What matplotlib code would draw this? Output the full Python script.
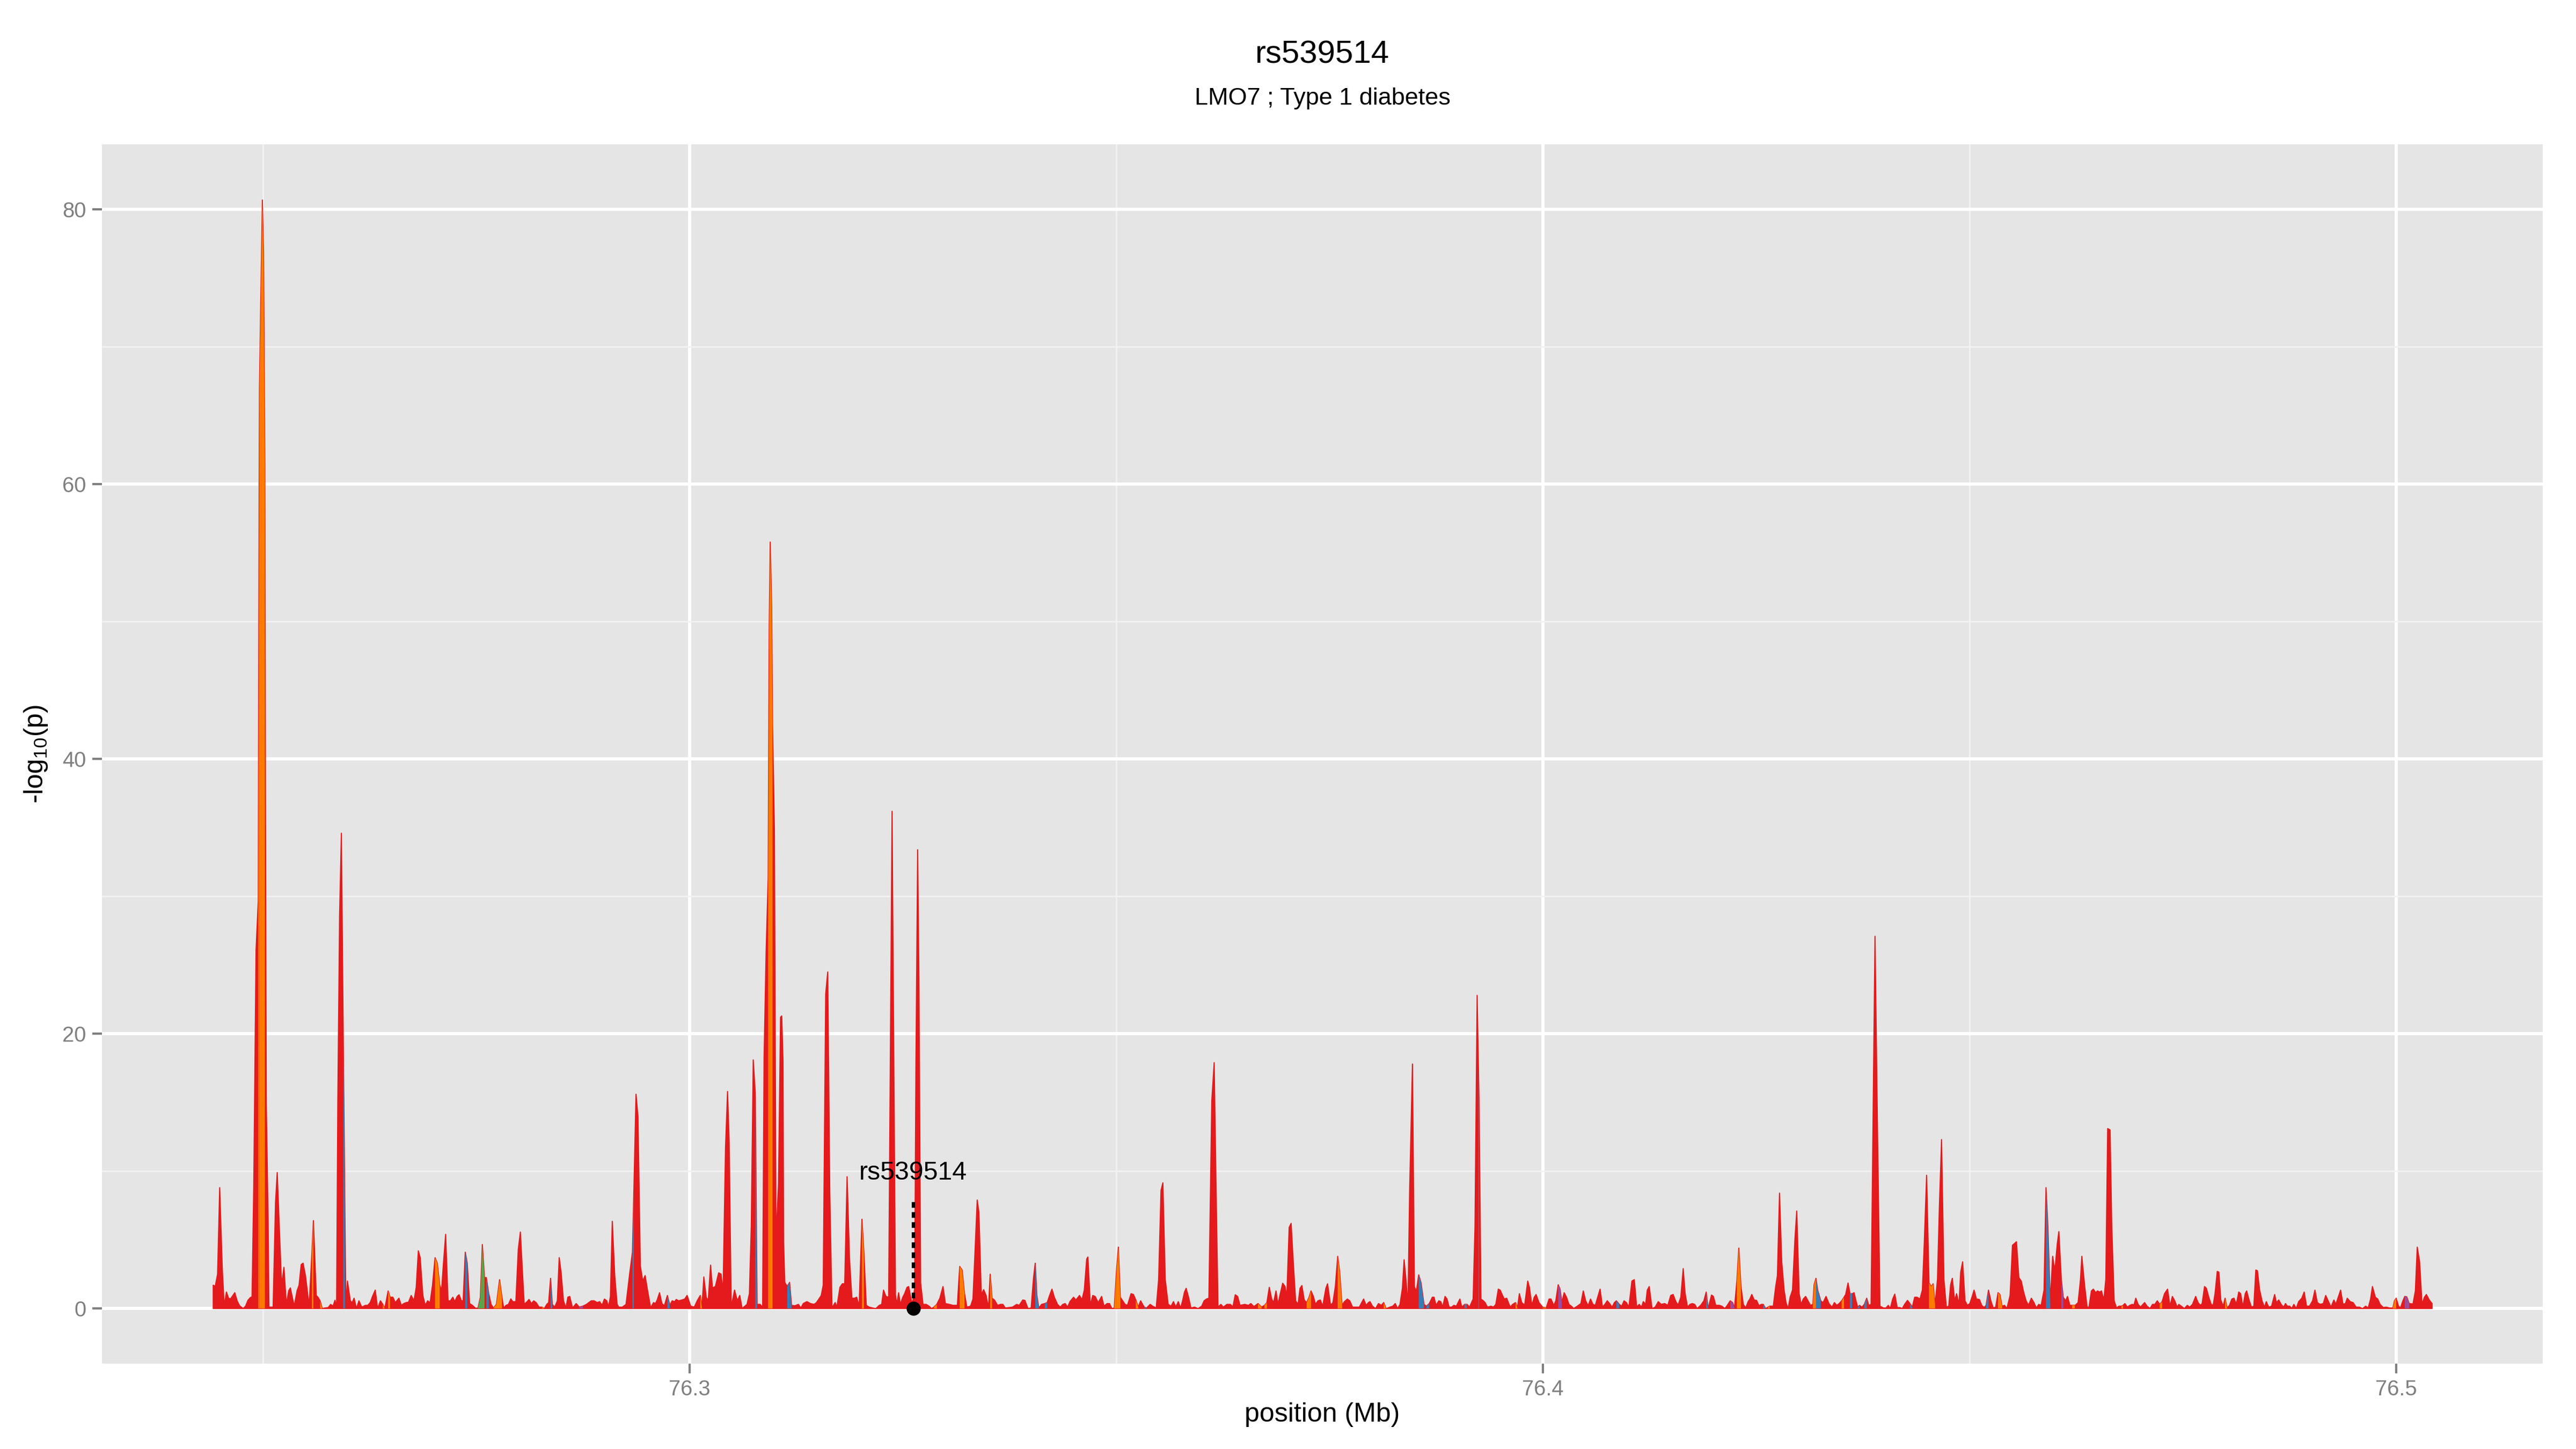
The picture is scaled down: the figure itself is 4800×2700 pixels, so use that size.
import numpy as np
import matplotlib
matplotlib.use("Agg")
import matplotlib.pyplot as plt

plt.rcParams['font.family'] = ['Liberation Sans', 'DejaVu Sans']
plt.rcParams['mathtext.default'] = 'regular'

# ---------------- DATA (position in kb, -log10 p) ----------------
pos_a = [76244.14, 76244.37, 76244.65, 76244.90, 76245.21, 76245.43, 76245.69, 76245.94, 76246.17, 76246.39,
         76246.67, 76246.95, 76247.23, 76247.65, 76247.93, 76248.21, 76248.50, 76248.69, 76248.89, 76249.16,
         76249.42, 76249.48, 76249.56, 76249.73, 76249.90, 76250.04, 76250.19, 76250.25, 76250.36, 76250.57,
         76250.67, 76251.16, 76251.44, 76251.64, 76252.15, 76252.43, 76252.71, 76252.99, 76253.18, 76253.63,
         76253.97, 76254.20, 76254.45, 76254.67, 76254.95, 76255.38, 76255.71, 76255.88, 76256.22, 76256.44,
         76256.67, 76256.92]
nlp_a = [1.7, 1.6, 2.5, 8.8, 2.8, 0.2, 1.2, 0.75, 0.7, 0.9,
         1.15, 0.55, 0.2, 0.0, 0.17, 0.6, 0.8, 0.85, 8.9, 26.1,
         29.7, 49.4, 67.0, 74.0, 80.7, 76.8, 61.5, 39.6, 14.9, 6.7,
         0.1, 0.1, 7.7, 9.9, 1.7, 3.0, 0.3, 1.3, 1.5, 0.17,
         1.3, 1.7, 3.2, 3.3, 2.4, 0.17, 4.1, 6.4, 0.95, 0.8,
         0.55, 0.0]

pos_b = [76257.20, 76257.62, 76257.90, 76258.18, 76258.41, 76258.60, 76258.74, 76258.95, 76259.16, 76259.37,
         76259.58, 76259.69, 76259.87, 76260.21, 76260.43, 76260.65, 76260.93, 76261.22, 76261.55, 76261.97,
         76262.25, 76262.54, 76262.82, 76263.13, 76263.41, 76263.74, 76264.02, 76264.25, 76264.64, 76264.87,
         76265.20, 76265.48, 76265.90, 76266.19, 76266.47, 76266.75, 76267.03, 76267.34, 76267.67, 76267.93,
         76268.18, 76268.40, 76268.71, 76268.99, 76269.27, 76269.56, 76269.84, 76270.14, 76270.40, 76270.68,
         76270.90, 76271.10, 76271.38, 76271.66, 76271.94, 76272.22, 76272.45, 76272.73, 76272.95, 76273.23,
         76273.43, 76273.68, 76273.91, 76274.19, 76274.52, 76274.86, 76275.17, 76275.45, 76275.68, 76275.93,
         76276.15, 76276.43, 76276.71, 76276.99, 76277.33, 76277.70, 76277.98, 76278.18, 76278.46, 76278.74,
         76279.02, 76279.24, 76279.61, 76279.89, 76280.14, 76280.37, 76280.59, 76280.93, 76281.15, 76281.43,
         76281.71, 76281.99, 76282.33, 76282.67, 76282.95, 76283.23, 76283.45, 76283.68, 76283.88, 76284.16,
         76284.47, 76284.69, 76284.91, 76285.19, 76285.48, 76285.70, 76285.92, 76286.26, 76286.68, 76287.04]
nlp_b = [0.04, 0.07, 0.3, 0.17, 0.6, 0.15, 14.9, 28.6, 34.6, 20.4,
         6.7, 0.1, 2.0, 0.56, 0.43, 0.75, 0.0, 0.56, 0.1, 0.23,
         0.23, 0.43, 0.9, 1.34, 0.0, 0.56, 0.3, 0.0, 1.28, 0.82,
         0.82, 0.43, 0.75, 0.23, 0.36, 0.43, 0.46, 0.95, 0.56, 1.54,
         4.2, 3.7, 0.95, 0.23, 0.56, 0.43, 1.7, 3.7, 3.3, 1.73,
         1.28, 3.1, 5.4, 0.56, 0.56, 0.82, 0.5, 0.88, 1.0, 0.56,
         0.56, 4.1, 3.3, 0.36, 0.23, 0.03, 0.03, 0.82, 4.66, 2.25,
         2.25, 1.08, 0.3, 0.03, 0.3, 2.1, 0.82, 0.03, 0.23, 0.3,
         0.7, 0.5, 0.5, 4.3, 5.57, 2.8, 0.3, 0.5, 0.66, 0.36,
         0.56, 0.43, 0.1, 0.1, 0.0, 0.3, 0.43, 2.2, 0.3, 0.1,
         0.56, 3.7, 2.65, 0.56, 0.04, 0.82, 0.88, 0.04, 0.36, 0.1]

pos_c = [76287.46, 76287.88, 76288.44, 76288.78, 76289.15, 76289.43, 76289.71, 76289.99, 76290.27, 76290.47,
         76290.69, 76290.91, 76291.20, 76291.48, 76291.67, 76292.09, 76292.52, 76292.94, 76293.27, 76293.44,
         76293.69, 76293.92, 76294.20, 76294.48, 76294.76, 76295.04, 76295.41, 76295.74, 76295.97, 76296.17,
         76296.45, 76296.73, 76297.01, 76297.37, 76297.65, 76297.93, 76298.22, 76298.41, 76298.69, 76299.06,
         76299.40, 76299.68, 76300.10, 76300.52, 76300.86, 76301.22, 76301.42, 76301.64, 76301.92, 76302.15,
         76302.43, 76302.65, 76302.99, 76303.38, 76303.66, 76303.89, 76304.18, 76304.42, 76304.61, 76304.85,
         76305.24, 76305.57, 76305.85, 76306.13, 76306.70, 76306.98, 76307.20, 76307.43, 76307.67, 76307.88,
         76308.24, 76308.53, 76308.70, 76308.94, 76309.18, 76309.30, 76309.42, 76309.59, 76309.69, 76309.91,
         76310.10, 76310.39, 76310.63, 76310.77, 76310.92, 76310.99, 76311.13, 76311.41, 76311.69, 76311.92]
nlp_c = [0.17, 0.3, 0.56, 0.56, 0.43, 0.5, 0.23, 0.69, 0.56, 0.1,
         0.88, 6.35, 2.4, 0.3, 0.1, 0.1, 0.3, 2.5, 4.1, 8.6,
         15.6, 14.0, 3.1, 2.0, 2.4, 1.34, 0.04, 0.43, 0.36, 0.62,
         1.15, 0.36, 0.2, 0.95, 0.23, 0.56, 0.5, 0.66, 0.56, 0.62,
         0.69, 0.95, 0.17, 0.1, 0.56, 0.95, 0.1, 2.3, 0.82, 0.56,
         3.16, 1.5, 1.6, 2.6, 2.5, 1.15, 11.7, 15.8, 12.1, 0.1,
         1.34, 0.56, 0.95, 0.0, 0.3, 1.08, 6.0, 18.1, 15.7, 0.3,
         0.3, 0.1, 18.3, 26.0, 31.4, 49.6, 55.8, 51.1, 42.6, 34.9,
         5.1, 9.0, 21.2, 21.3, 18.0, 4.8, 1.9, 1.6, 1.9, 0.23]

pos_d = [76312.31, 76312.73, 76313.01, 76313.29, 76313.72, 76314.14, 76314.56, 76314.84, 76315.12, 76315.40,
         76315.63, 76315.92, 76316.16, 76316.40, 76316.66, 76317.03, 76317.23, 76317.59, 76317.87, 76318.15,
         76318.43, 76318.71, 76318.99, 76319.28, 76319.56, 76319.84, 76320.17, 76320.40, 76320.68, 76321.02,
         76321.44, 76321.80, 76322.20, 76322.48, 76322.70, 76322.98, 76323.30, 76323.70, 76324.10, 76324.25,
         76324.47, 76324.67, 76324.95, 76325.17, 76325.45, 76325.65, 76325.87, 76326.07, 76326.35, 76326.50,
         76326.70, 76326.85, 76327.05, 76327.33, 76327.70, 76328.04, 76328.32, 76328.60, 76328.94, 76329.30,
         76329.67, 76329.95, 76330.42, 76330.84]
nlp_d = [0.2, 0.3, 0.03, 0.36, 0.5, 0.36, 0.3, 0.43, 0.69, 0.95,
         1.7, 22.9, 24.5, 8.5, 0.04, 0.43, 0.1, 1.54, 1.8, 1.8,
         9.6, 3.7, 0.75, 0.75, 0.82, 0.17, 6.5, 4.1, 0.23, 0.1,
         0.04, 0.0, 0.23, 0.3, 1.34, 0.88, 0.82, 36.2, 1.0, 0.3,
         1.15, 0.3, 0.82, 1.08, 1.54, 1.6, 0.88, 0.3, 1.47, 18.0,
         33.4, 24.0, 1.86, 0.3, 0.3, 0.17, 0.0, 0.1, 0.3, 0.75,
         1.6, 0.36, 0.3, 0.23]

pos_e = [76331.07, 76331.35, 76331.63, 76331.91, 76332.19, 76332.47, 76332.90, 76333.18, 76333.46, 76333.68,
         76333.88, 76334.16, 76334.44, 76334.72, 76335.00, 76335.20, 76335.42, 76335.70, 76336.07, 76336.41,
         76336.69, 76336.97, 76337.81, 76338.31, 76338.60, 76339.02, 76339.27, 76339.63, 76340.00, 76340.28,
         76340.48, 76340.67, 76340.90, 76341.23, 76341.60, 76341.88, 76342.16, 76342.44, 76342.72, 76343.09,
         76343.42, 76343.71, 76343.99, 76344.27, 76344.55, 76344.97, 76345.25, 76345.67, 76345.95, 76346.23,
         76346.51, 76346.65, 76346.94, 76347.22, 76347.50, 76347.86, 76348.26, 76348.54, 76348.90, 76349.18,
         76349.46, 76349.74, 76350.02, 76350.22, 76350.45, 76350.73, 76351.01, 76351.29, 76351.71, 76351.99,
         76352.27, 76352.55, 76352.83, 76353.25, 76353.53, 76353.95, 76354.24, 76354.66, 76354.94, 76355.22,
         76355.44, 76355.72, 76356.06, 76356.40, 76356.68, 76356.96, 76357.24, 76357.52, 76357.75, 76357.97,
         76358.17, 76358.45, 76358.73, 76359.15, 76359.57, 76359.99, 76360.27, 76360.55, 76360.83, 76361.17,
         76361.45, 76361.68, 76361.90, 76362.24, 76362.52, 76362.94, 76363.36, 76363.64, 76363.92, 76364.20,
         76364.48, 76365.05, 76365.47, 76365.75, 76366.11, 76366.59, 76367.01, 76367.35, 76367.63, 76367.91,
         76368.19, 76368.42, 76368.70, 76368.92, 76369.20, 76369.48, 76369.76, 76369.96, 76370.24, 76370.47,
         76370.72, 76371.00, 76371.28, 76371.51, 76371.73, 76372.01, 76372.29, 76372.57, 76372.80, 76373.08,
         76373.33, 76373.61, 76373.89, 76374.17, 76374.54, 76374.74]
nlp_e = [0.23, 0.23, 3.06, 2.8, 1.08, 0.1, 0.17, 0.69, 4.7, 7.9,
         7.0, 1.02, 1.37, 0.95, 0.04, 2.5, 0.75, 0.62, 0.23, 0.3,
         0.3, 0.04, 0.1, 0.3, 0.23, 0.62, 0.59, 0.0, 0.04, 2.25,
         3.3, 0.95, 0.04, 0.3, 0.36, 0.43, 0.95, 1.41, 0.82, 0.3,
         0.1, 0.3, 0.36, 0.1, 0.5, 0.82, 0.62, 0.95, 0.62, 1.34,
         3.6, 3.75, 0.23, 0.95, 0.88, 0.43, 0.88, 0.17, 0.36, 0.36,
         0.0, 0.04, 2.9, 4.47, 0.82, 0.56, 0.3, 0.23, 1.08, 1.02,
         0.62, 0.1, 0.56, 0.1, 0.04, 0.3, 0.17, 0.04, 2.1, 8.6,
         9.15, 2.1, 0.3, 0.17, 0.5, 0.1, 0.5, 0.04, 0.56, 1.2,
         1.47, 0.82, 0.04, 0.1, 0.0, 0.17, 0.56, 0.69, 0.75, 15.1,
         17.9, 8.6, 0.1, 0.3, 0.1, 0.3, 0.3, 0.1, 1.0, 0.88,
         0.23, 0.3, 0.23, 0.36, 0.14, 0.36, 0.1, 0.23, 0.43, 1.54,
         0.69, 0.43, 1.28, 0.3, 1.08, 1.84, 1.6, 0.82, 5.9, 6.2,
         3.4, 0.56, 0.3, 1.47, 1.67, 0.62, 0.43, 0.82, 1.28, 0.88,
         0.3, 0.56, 0.62, 0.17, 1.47, 1.8]

pos_f = [76375.09, 76375.37, 76375.65, 76375.93, 76376.16, 76376.44, 76376.72, 76377.06, 76377.34, 76377.67,
         76378.12, 76378.46, 76378.74, 76378.97, 76379.25, 76379.53, 76379.72, 76380.00, 76380.37, 76380.71,
         76381.04, 76381.32, 76381.60, 76382.05, 76382.39, 76382.67, 76382.95, 76383.23, 76383.51, 76383.71,
         76383.93, 76384.16, 76384.36, 76384.69, 76384.92, 76385.14, 76385.42, 76385.70, 76386.04, 76386.32,
         76386.66, 76387.02, 76387.22, 76387.45, 76387.78, 76388.01, 76388.23, 76388.51, 76388.74, 76388.99,
         76389.27, 76389.55, 76389.83, 76390.25, 76390.48, 76390.81, 76391.10, 76391.38, 76391.80, 76392.02,
         76392.27, 76392.42, 76392.50, 76392.72, 76393.00, 76393.20, 76393.48, 76393.90, 76394.18, 76394.46,
         76394.75, 76394.97, 76395.25, 76395.45, 76395.73, 76396.15, 76396.43, 76396.77, 76396.99, 76397.22,
         76397.50, 76397.84, 76398.20, 76398.40, 76398.68, 76398.96, 76399.18, 76399.52, 76399.94, 76400.36,
         76400.70, 76400.92, 76401.26, 76401.49, 76401.77, 76401.99, 76402.19, 76402.47, 76402.75, 76403.03,
         76403.31, 76403.59, 76404.01, 76404.43, 76404.71, 76404.99, 76405.28, 76405.56, 76405.84, 76406.12,
         76406.40, 76406.68, 76406.96, 76407.24, 76407.52, 76407.80, 76408.08, 76408.36, 76408.59, 76408.93,
         76409.21, 76409.49, 76409.77, 76410.05, 76410.41, 76410.69, 76410.97, 76411.26, 76411.54, 76411.74,
         76412.02, 76412.21, 76412.44, 76412.77, 76413.14, 76413.50, 76413.84, 76414.26, 76414.62, 76414.96,
         76415.24, 76415.52, 76415.81, 76416.14, 76416.42, 76416.65, 76416.93, 76417.21, 76417.49, 76417.77,
         76418.05, 76418.47, 76418.84]
nlp_f = [0.23, 0.43, 1.6, 3.8, 2.65, 0.23, 0.5, 0.69, 0.56, 0.1,
         0.1, 0.1, 0.43, 0.69, 0.23, 0.43, 0.5, 0.17, 0.0, 0.36,
         0.23, 0.43, 0.0, 0.1, 0.17, 0.36, 0.0, 0.3, 1.47, 3.55,
         2.1, 0.17, 8.6, 17.8, 1.6, 1.2, 2.45, 1.86, 0.3, 0.17,
         0.36, 0.82, 0.82, 0.23, 0.56, 0.5, 0.1, 0.88, 0.69, 0.1,
         0.1, 0.23, 0.17, 0.69, 0.1, 0.3, 0.3, 0.1, 0.69, 6.0,
         22.8, 17.5, 15.1, 0.69, 0.56, 0.43, 0.1, 0.17, 0.1, 0.3,
         1.41, 1.34, 0.95, 0.69, 0.75, 0.1, 0.3, 0.43, 0.04, 1.08,
         0.43, 0.23, 2.0, 1.54, 0.23, 0.82, 1.02, 0.43, 0.1, 0.04,
         0.69, 0.69, 0.23, 0.56, 1.73, 1.41, 0.43, 1.15, 0.82, 0.3,
         0.17, 0.0, 0.17, 0.36, 1.28, 0.56, 0.2, 0.69, 0.3, 0.23,
         0.82, 1.41, 0.1, 0.3, 0.56, 0.36, 0.1, 0.43, 0.56, 0.3,
         0.17, 0.56, 0.43, 0.1, 2.0, 2.1, 0.1, 0.3, 0.1, 0.5,
         0.3, 1.34, 1.6, 0.0, 0.1, 0.5, 0.3, 0.36, 0.23, 0.95,
         1.02, 0.56, 0.23, 0.82, 2.9, 1.08, 0.1, 0.3, 0.36, 0.3,
         0.0, 0.23, 0.56]

pos_g = [76419.12, 76419.34, 76419.74, 76419.96, 76420.24, 76420.66, 76420.95, 76421.31, 76421.59, 76421.93,
         76422.21, 76422.43, 76422.71, 76422.94, 76423.19, 76423.47, 76423.75, 76424.03, 76424.23, 76424.46,
         76424.74, 76425.02, 76425.30, 76425.58, 76425.80, 76426.08, 76426.36, 76426.56, 76426.98, 76427.26,
         76427.46, 76427.71, 76427.97, 76428.25, 76428.47, 76428.72, 76428.95, 76429.23, 76429.51, 76429.73,
         76430.01, 76430.24, 76430.49, 76430.77, 76431.05, 76431.34, 76431.62, 76431.76, 76431.98, 76432.18,
         76432.54, 76432.82, 76433.16, 76433.50, 76433.86, 76434.14, 76434.42, 76434.70, 76434.99, 76435.27,
         76435.46, 76435.74, 76435.97, 76436.25, 76436.45, 76436.67, 76436.87, 76437.09, 76437.37, 76437.65,
         76437.93, 76438.16, 76438.44, 76438.65, 76438.90, 76439.15, 76439.48, 76439.90, 76440.18, 76440.46,
         76440.69, 76440.97, 76441.22, 76441.50, 76441.81, 76442.09, 76442.37, 76442.71, 76442.99, 76443.27,
         76443.55, 76443.83, 76444.17, 76444.45, 76444.67, 76444.95, 76445.23, 76445.51, 76445.71, 76445.94,
         76446.22, 76446.44, 76446.70, 76446.98, 76447.26, 76447.54, 76447.76, 76447.96, 76448.24, 76448.46,
         76448.74, 76448.94, 76449.17, 76449.45, 76449.73, 76450.01, 76450.29, 76450.51, 76450.79, 76451.13,
         76451.41, 76451.69, 76451.92, 76452.20, 76452.48, 76452.76, 76453.04, 76453.32, 76453.54, 76453.79,
         76454.08, 76454.36, 76454.73, 76455.01, 76455.48, 76455.76, 76456.04, 76456.32, 76456.61, 76456.89,
         76457.22, 76457.53, 76457.81, 76458.09, 76458.37, 76458.71, 76458.94, 76459.16, 76459.44, 76459.72,
         76459.98, 76460.26, 76460.45, 76460.74, 76460.96, 76461.24, 76461.46, 76461.74, 76462.02, 76462.36,
         76462.70, 76462.98]
nlp_g = [1.2, 0.0, 0.98, 0.88, 0.23, 0.23, 0.17, 0.0, 0.23, 0.56,
         0.43, 0.04, 2.0, 4.4, 1.6, 0.3, 0.04, 0.5, 0.69, 1.02,
         0.62, 0.59, 0.2, 0.3, 0.3, 0.0, 0.1, 0.17, 0.17, 1.6,
         2.4, 8.4, 3.4, 1.34, 0.43, 0.0, 0.82, 1.34, 5.0, 7.1,
         1.08, 0.3, 0.69, 0.88, 0.56, 0.23, 0.3, 1.73, 2.2, 1.34,
         0.56, 0.43, 0.88, 0.36, 0.1, 0.43, 0.23, 0.36, 0.56, 0.82,
         1.02, 1.86, 1.08, 1.08, 1.15, 0.56, 0.1, 0.23, 0.1, 0.3,
         0.75, 0.23, 0.3, 12.5, 27.1, 15.0, 0.17, 0.04, 0.04, 0.23,
         0.0, 0.69, 1.05, 0.07, 0.07, 0.0, 0.3, 0.59, 0.36, 0.1,
         0.82, 0.82, 0.69, 1.34, 4.7, 9.7, 1.86, 1.6, 1.8, 0.3,
         2.12, 7.3, 12.3, 2.12, 0.1, 0.17, 1.73, 2.2, 0.56, 1.08,
         0.3, 2.65, 3.4, 0.56, 0.23, 0.36, 0.88, 1.34, 0.69, 0.66,
         0.23, 0.07, 0.23, 1.34, 0.56, 0.04, 0.1, 1.15, 1.02, 0.17,
         0.23, 0.0, 0.95, 4.6, 4.86, 2.25, 2.0, 1.2, 0.56, 0.23,
         0.75, 0.43, 0.04, 0.3, 0.23, 1.34, 8.8, 6.0, 0.43, 3.8,
         2.75, 4.7, 5.6, 2.1, 0.82, 0.56, 0.88, 0.23, 0.23, 0.23,
         0.43, 2.1]

pos_h = [76463.14, 76463.48, 76463.76, 76463.98, 76464.26, 76464.49, 76464.77, 76464.97, 76465.25, 76465.44,
         76465.72, 76465.95, 76466.17, 76466.45, 76466.65, 76466.93, 76467.21, 76467.49, 76467.77, 76467.97,
         76468.19, 76468.48, 76468.76, 76469.04, 76469.26, 76469.46, 76469.74, 76470.02, 76470.30, 76470.50,
         76470.78, 76471.14, 76471.42, 76471.70, 76471.98, 76472.27, 76472.55, 76472.83, 76473.19, 76473.47,
         76473.75, 76474.03, 76474.32, 76474.51, 76474.79, 76475.16, 76475.50, 76475.78, 76476.11, 76476.48,
         76476.76, 76477.04, 76477.24, 76477.52, 76477.74, 76478.02, 76478.30, 76478.53, 76478.75, 76479.01,
         76479.20, 76479.43, 76479.71, 76479.93, 76480.16, 76480.44, 76480.72, 76480.97, 76481.25, 76481.53,
         76481.76, 76482.01, 76482.29, 76482.46, 76482.74, 76483.02, 76483.30, 76483.53, 76483.72, 76483.98,
         76484.26, 76484.54, 76484.76, 76485.04, 76485.38, 76485.74, 76485.94, 76486.22, 76486.50, 76486.78,
         76487.01, 76487.23, 76487.51, 76487.74, 76487.99, 76488.27, 76488.55, 76488.92, 76489.20, 76489.48,
         76489.82, 76490.18, 76490.46, 76490.74, 76491.08, 76491.44, 76491.72, 76492.01, 76492.34, 76492.68,
         76492.91, 76493.19, 76493.47, 76493.75, 76494.03, 76494.25, 76494.59, 76494.93, 76495.29, 76495.66,
         76496.05, 76496.41, 76496.70, 76496.98, 76497.20, 76497.54, 76497.82, 76498.10, 76498.47, 76498.80,
         76499.22, 76499.59, 76499.78, 76499.98, 76500.26, 76500.48, 76500.77, 76500.99, 76501.22, 76501.50,
         76501.95, 76502.23, 76502.45, 76502.73, 76503.01, 76503.29, 76503.52, 76503.86, 76504.19]
nlp_h = [3.8, 1.6, 0.1, 0.1, 1.28, 1.41, 1.15, 1.28, 1.2, 1.28,
         0.62, 2.12, 13.1, 13.0, 6.0, 0.56, 0.04, 0.17, 0.17, 0.23,
         0.36, 0.1, 0.23, 0.3, 0.27, 0.75, 0.3, 0.1, 0.3, 0.43,
         0.17, 0.0, 0.3, 0.3, 0.56, 0.3, 0.5, 1.08, 1.41, 0.17,
         0.88, 0.56, 0.1, 0.3, 0.17, 0.0, 0.23, 0.1, 0.3, 0.88,
         0.43, 0.23, 0.36, 1.6, 1.47, 0.82, 0.3, 0.23, 1.08, 2.7,
         2.65, 0.62, 0.17, 0.75, 0.04, 0.23, 0.69, 0.75, 0.3, 1.2,
         1.08, 0.1, 1.08, 1.28, 0.62, 0.1, 0.17, 2.8, 2.75, 1.34,
         0.56, 0.1, 0.5, 0.1, 0.17, 1.02, 0.43, 0.62, 0.3, 0.1,
         0.36, 0.17, 0.17, 0.0, 0.3, 0.0, 0.5, 0.75, 1.2, 0.17,
         0.17, 0.56, 1.34, 0.43, 0.3, 0.36, 0.95, 0.56, 0.1, 0.62,
         0.3, 0.82, 1.34, 0.3, 0.36, 0.75, 0.5, 0.43, 0.1, 0.1,
         0.0, 0.17, 0.04, 0.69, 1.6, 0.82, 0.69, 0.3, 0.07, 0.1,
         0.04, 0.04, 0.56, 0.75, 0.17, 0.04, 0.56, 0.88, 0.85, 0.36,
         0.33, 1.28, 4.47, 3.4, 0.3, 0.82, 1.02, 0.62, 0.36]

# SNPs whose segment is not in the red (default) LD class
ld_orange = [76249.42, 76249.48, 76249.56, 76249.73, 76249.90, 76250.04, 76255.71, 76256.67,
             76264.02, 76264.64, 76270.14, 76270.40, 76276.99, 76277.33, 76277.70, 76282.67,
             76301.22, 76309.18, 76309.30, 76309.42, 76309.59, 76320.17, 76328.60, 76331.63,
             76331.91, 76335.20, 76349.74, 76350.02, 76350.22, 76352.27, 76366.59, 76367.35,
             76372.29, 76372.57, 76375.93, 76376.16, 76381.32, 76396.77, 76399.94, 76422.71,
             76422.94, 76426.36, 76431.62, 76431.76, 76434.99, 76445.23, 76445.51, 76445.71,
             76453.32, 76453.54, 76462.02, 76467.77, 76472.27, 76479.93, 76499.59, 76499.78]
ld_blue = [76259.37, 76273.68, 76276.15, 76283.68, 76293.27, 76297.37, 76307.67, 76311.41,
           76311.69, 76340.48, 76340.67, 76341.60, 76353.25, 76385.42, 76385.70, 76386.32,
           76390.81, 76392.42, 76408.59, 76419.12, 76425.80, 76431.98, 76432.18, 76435.97,
           76436.87, 76437.65, 76442.99, 76451.92, 76458.94, 76459.16]
ld_green = [76275.17, 76275.45, 76275.68]
ld_purple = [76287.04, 76401.77, 76401.99, 76421.93, 76422.21, 76460.74, 76500.99, 76501.22]

snp_name = "rs539514"
snp_pos_kb = 76326.21
title_text = "rs539514"
subtitle_text = "LMO7 ; Type 1 diabetes"

RED, ORANGE, BLUE, GREEN, PURPLE = "#E41A1C", "#FF7F00", "#377EB8", "#4DAF4A", "#984EA3"

# ---------------- PREP ----------------
pos_kb = np.concatenate([pos_a, pos_b, pos_c, pos_d, pos_e, pos_f, pos_g, pos_h])
nlp = np.concatenate([nlp_a, nlp_b, nlp_c, nlp_d, nlp_e, nlp_f, nlp_g, nlp_h])
assert len(pos_kb) == len(nlp)
x = pos_kb / 1000.0

grp = np.zeros(len(x), dtype=int)
for k, lst in enumerate([ld_orange, ld_blue, ld_green, ld_purple], start=1):
    for p in lst:
        grp[np.argmin(np.abs(pos_kb - p))] = k
grp_col = {1: ORANGE, 2: BLUE, 3: GREEN, 4: PURPLE}

# ---------------- PLOT ----------------
fig = plt.figure(figsize=(16, 9), dpi=300)
ax = fig.add_axes([0.0396, 0.0589, 0.9475, 0.8415])
ax.set_facecolor("#E5E5E5")
for s in ax.spines.values():
    s.set_visible(False)

ax.fill_between(x, 0, nlp, color=RED, lw=0.5, zorder=2)
for i in range(len(x) - 1):
    if grp[i]:
        ax.fill_between(x[i:i + 2], 0, nlp[i:i + 2], color=grp_col[grp[i]], lw=0, zorder=3)

# highlighted SNP
xs = snp_pos_kb / 1000.0
ax.plot([xs, xs], [0, 8.0], color="black", lw=1.5, ls=(0, (1.7, 1.3)), zorder=5)
ax.plot([xs], [0], "o", color="black", ms=5.3, zorder=6)
ax.text(xs, 9.35, snp_name, ha="center", va="baseline", fontsize=11.6, zorder=6)

# ggplot-like expansion
xr = x.max() - x.min()
ax.set_xlim(x.min() - 0.05 * xr, x.max() + 0.05 * xr)
yr = nlp.max()
ax.set_ylim(-0.05 * yr, nlp.max() + 0.05 * yr)

ax.set_xticks([76.3, 76.4, 76.5])
ax.set_xticklabels(["76.3", "76.4", "76.5"])
ax.set_xticks([76.25, 76.35, 76.45], minor=True)
ax.set_yticks([0, 20, 40, 60, 80])
ax.set_yticks([10, 30, 50, 70], minor=True)
ax.grid(which="major", color="white", lw=1.42)
ax.grid(which="minor", color="#F2F2F2", lw=0.71)
ax.set_axisbelow(True)
ax.tick_params(which="major", length=4.25, width=1.0, color="#7F7F7F",
               labelcolor="#7F7F7F", labelsize=9.6, pad=2.8)
ax.tick_params(which="minor", length=0)

cx = 0.0396 + 0.9475 / 2
fig.text(cx, 0.9563, title_text, ha="center", va="baseline", fontsize=14.4)
fig.text(cx, 0.9278, subtitle_text, ha="center", va="baseline", fontsize=10.8)
fig.text(cx, 0.0237, "position (Mb)", ha="center", va="center", fontsize=12)
fig.text(0.014, 0.4796, "-log$_{10}$(p)", ha="center", va="center", rotation=90, fontsize=12)

fig.savefig("out.png", dpi=300)
